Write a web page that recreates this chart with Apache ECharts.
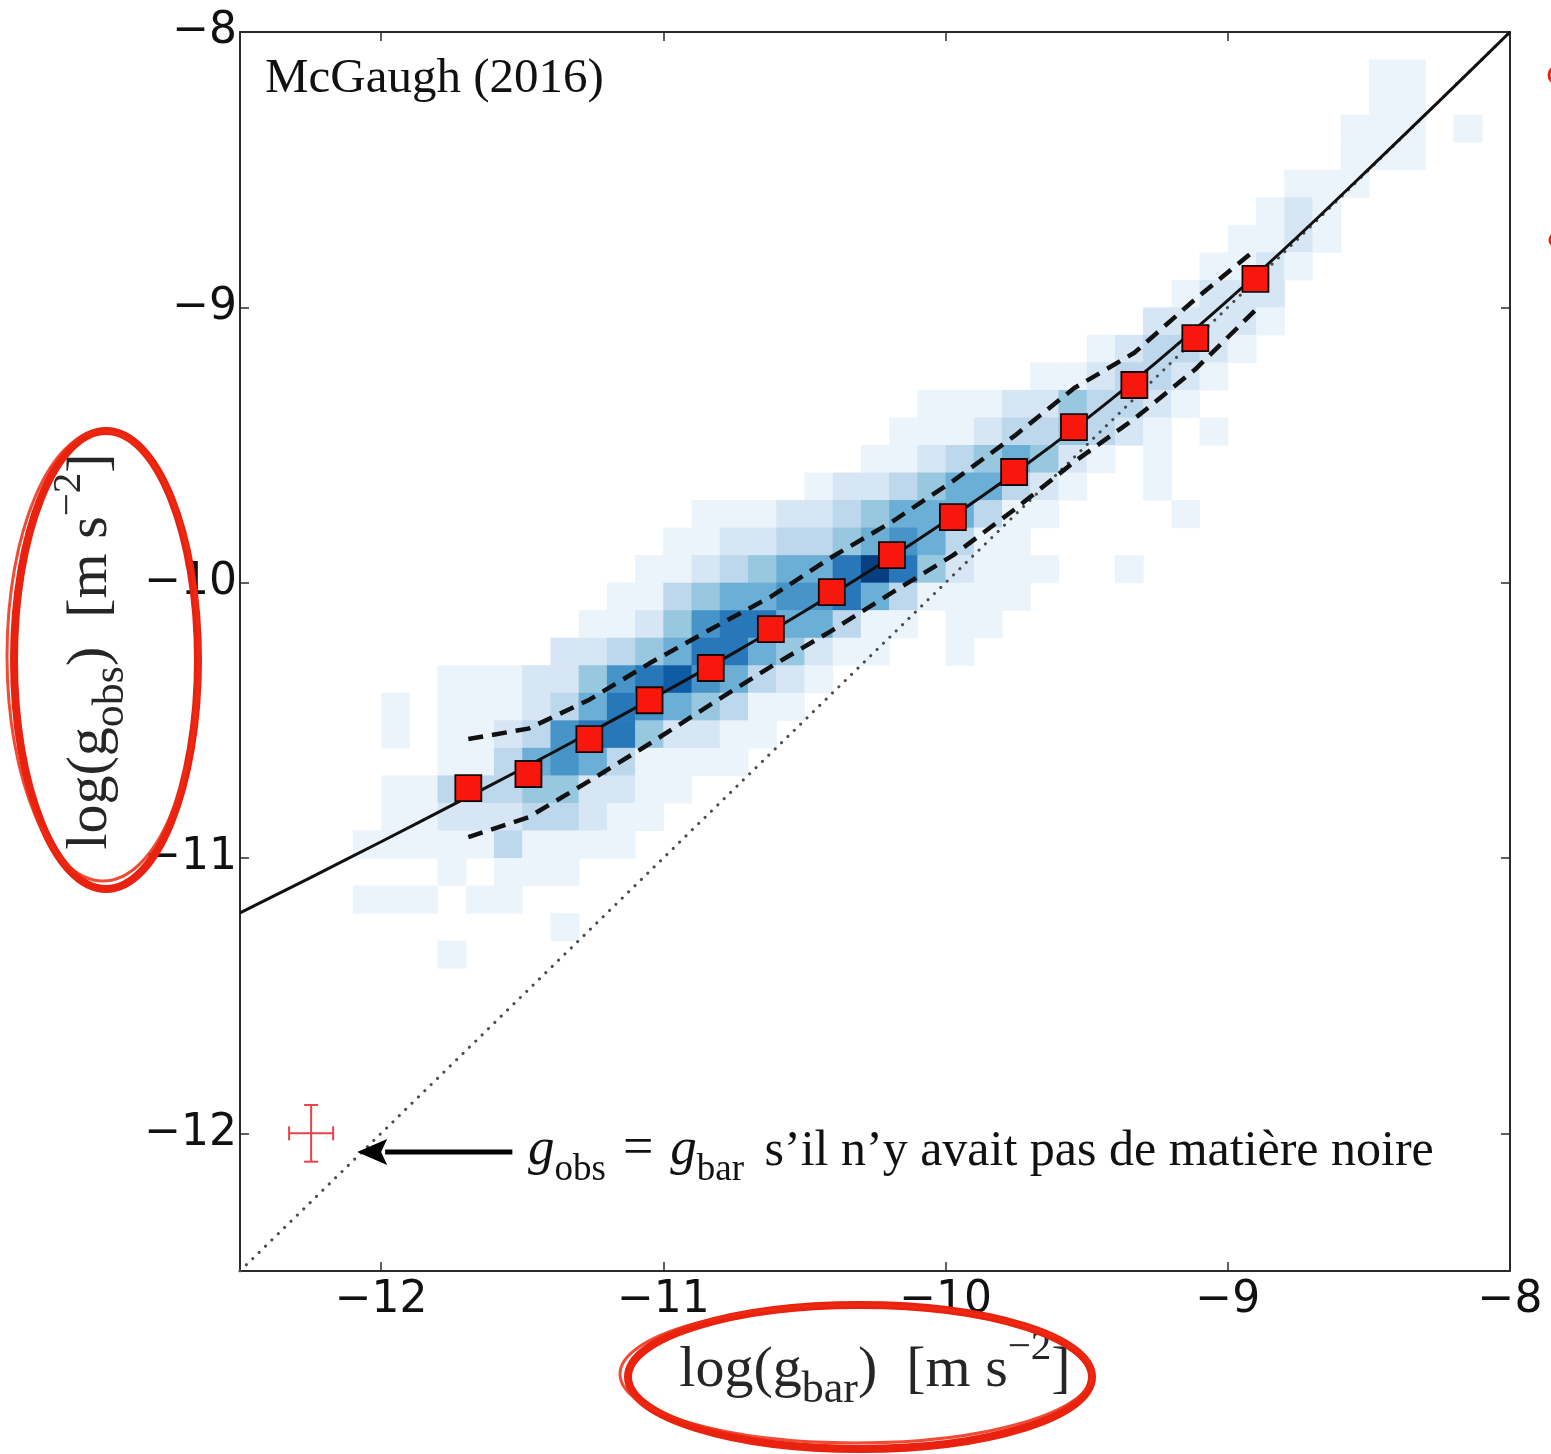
<!DOCTYPE html>
<html>
<head>
<meta charset="utf-8">
<script src="https://cdn.jsdelivr.net/npm/echarts@6.0.0/dist/echarts.min.js"></script>
<style>
html,body{margin:0;padding:0;background:#ffffff;}
#chart{width:1551px;height:1454px;}
</style>
</head>
<body>
<div id="chart"></div>
<script>
// ---------- axes ----------
const axisMin = -12.5;
const axisMax = -8;
const tickValues = [-12, -11, -10, -9, -8];

// ---------- 2-D histogram of the data (0.1 dex bins), rows listed top to bottom ----------
const binSize = 0.1;
const rowY = [-8.2,-8.3,-8.4,-8.5,-8.6,-8.7,-8.8,-8.9,-9.0,-9.1,-9.2,-9.3,-9.4,-9.5,-9.6,-9.7,-9.8,-9.9,-10.0,-10.1,-10.2,-10.3,-10.4,-10.5,-10.6,-10.7,-10.8,-10.9,-11.0,-11.1,-11.2,-11.3,-11.4];
const rowStartX = [-8.5,-8.5,-8.6,-8.6,-8.8,-8.9,-9.0,-9.1,-9.2,-9.3,-9.5,-9.7,-10.1,-10.2,-10.3,-10.5,-10.9,-11.0,-11.1,-11.2,-11.3,-11.4,-11.8,-12.0,-12.0,-11.8,-12.0,-12.0,-12.1,-11.8,-12.1,-11.4,-11.8];
const rowCounts = [
  [1,1],
  [1,1],
  [1,1,1,0,1],
  [1,1,1],
  [1,1,1],
  [1,2,1],
  [1,1,2,1],
  [1,1,2,1],
  [1,2,2,2],
  [2,2,2,2,1],
  [1,2,3,3,2,1],
  [1,1,2,3,3,2,1],
  [1,1,1,2,2,4,3,3,2,1],
  [1,1,1,2,3,3,4,3,2,1,0,1],
  [1,1,2,3,4,5,4,2,1,0,1],
  [1,2,2,3,4,5,5,3,2,1,0,0,1],
  [1,1,1,2,2,3,4,5,5,5,3,1,1,0,0,0,0,1],
  [1,1,2,2,3,3,4,5,6,5,3,1,1],
  [1,1,2,3,4,5,5,7,9,7,4,2,1,1,1,0,0,1],
  [1,1,3,4,5,5,6,6,7,5,3,1,1,1,1],
  [1,1,2,4,6,7,7,5,5,3,1,1,0,1,1],
  [2,2,3,4,5,7,7,5,4,2,1,1,0,0,1],
  [1,1,1,2,2,4,6,7,8,6,5,3,2,1],
  [1,0,1,1,1,2,3,5,7,6,5,4,3,1,1],
  [1,0,1,1,2,3,6,7,7,4,2,2,1,1],
  [1,1,3,5,6,5,3,1,1,1,1],
  [1,1,3,3,3,4,4,2,2,1,1],
  [1,1,2,2,2,3,3,2,1,1],
  [1,1,1,1,1,3,1,1,1,1],
  [1,0,1,1,1],
  [1,1,1,0,1,1],
  [1],
  [1]
];

// ---------- binned means (red squares) ----------
const binX = [-11.691,-11.478,-11.262,-11.049,-10.832,-10.619,-10.403,-10.190,-9.974,-9.757,-9.545,-9.331,-9.115,-8.902];
const binY = [-10.746,-10.695,-10.568,-10.427,-10.310,-10.169,-10.034,-9.900,-9.762,-9.598,-9.435,-9.282,-9.112,-8.897];
// ---------- scatter envelope (dashed), at the same x as the bins ----------
const upperY = [-10.568,-10.530,-10.425,-10.293,-10.169,-10.051,-9.907,-9.779,-9.631,-9.468,-9.294,-9.165,-8.970,-8.790];
const lowerY = [-10.924,-10.852,-10.720,-10.585,-10.442,-10.305,-10.174,-10.036,-9.901,-9.735,-9.562,-9.405,-9.225,-9.010];

// ---------- fitted relation (solid line) ----------
const fitX = [-12.5,-12.25,-12,-11.75,-11.5,-11.25,-11,-10.75,-10.5,-10.25,-10,-9.75,-9.5,-9.25,-9,-8.75,-8.5,-8.25,-8];
const fitY = [-11.199,-11.071,-10.941,-10.809,-10.676,-10.539,-10.399,-10.255,-10.104,-9.945,-9.777,-9.598,-9.405,-9.197,-8.975,-8.741,-8.497,-8.250,-8.000];

// ---------- 1:1 line (dotted) ----------
const unityX = [-12.5, -8];
const unityY = [-12.5, -8];

// ---------- typical error bar ----------
const errCenter = [-12.248, -12.0];
const errHalf = [0.078, 0.103];

// ---------- arrow of the annotation ----------
const arrowFrom = [-11.535, -12.068];
const arrowTo = [-12.085, -12.068];

// ---------- build data ----------
const heatData = [];
rowY.forEach((y0, r) => {
  rowCounts[r].forEach((v, i) => {
    if (v > 0) heatData.push([+(rowStartX[r] + i * binSize).toFixed(2), y0, v]);
  });
});
const zip = (xs, ys) => xs.map((x, i) => [x, ys[i]]);

const minus = v => (v < 0 ? '\u2212' : '') + Math.abs(v);
const frameColor = '#2b2b2b';
const serif = 'Liberation Serif';

function baseAxis(pos, showLabels) {
  return {
    type: 'value', min: axisMin, max: axisMax, position: pos,
    axisLine: { show: true, onZero: false, lineStyle: { color: frameColor, width: 2 } },
    axisTick: { show: true, inside: true, length: 9, customValues: tickValues, lineStyle: { color: frameColor, width: 1.5 } },
    axisLabel: showLabels ? {
      show: true, customValues: tickValues, formatter: minus,
      fontFamily: 'DejaVu Sans', fontSize: 44, color: '#111', margin: pos === 'bottom' ? 8 : 3
    } : { show: false },
    splitLine: { show: false }
  };
}

const nameRich = {
  t: { fontFamily: serif, fontSize: 58, color: '#262626', verticalAlign: 'bottom', lineHeight: 68, padding: [0, 0, 13, 0] },
  s: { fontFamily: serif, fontSize: 44, color: '#262626', verticalAlign: 'bottom', lineHeight: 55, padding: [0, 0, 0, 0] },
  p: { fontFamily: serif, fontSize: 41, color: '#262626', verticalAlign: 'bottom', lineHeight: 50, padding: [0, 0, 44, 0] }
};

const xMain = baseAxis('bottom', true);
xMain.name = '{t|log(g}{s|bar}{t|)  [m s}{p|\u22122}{t|]}';
xMain.nameLocation = 'middle';
xMain.nameGap = 50;
xMain.nameTextStyle = { rich: nameRich };

const yMain = baseAxis('left', true);
yMain.name = '{t|log(g}{s|obs}{t|)  [m s}{p|\u22122}{t|]}';
yMain.nameLocation = 'middle';
yMain.nameGap = 77;
yMain.nameTextStyle = { rich: nameRich };

const option = {
  backgroundColor: '#ffffff',
  animation: false,
  grid: { left: 240, right: 41, top: 32, bottom: 183, containLabel: false },
  xAxis: [xMain, baseAxis('top', false)],
  yAxis: [yMain, baseAxis('right', false)],
  visualMap: {
    show: false, seriesIndex: 0, dimension: 2, min: 0.5, max: 9.5,
    inRange: { color: ['#f7fbff','#deebf7','#c6dbef','#9ecae1','#6baed6','#4292c6','#2171b5','#08519c','#08306b'] }
  },
  series: [
    {
      type: 'custom', name: 'density', data: heatData, z: 1, silent: true,
      encode: { x: 0, y: 1 },
      renderItem: (params, api) => {
        const x0 = api.value(0), y0 = api.value(1);
        const a = api.coord([x0, y0 + binSize]);
        const b = api.coord([x0 + binSize, y0]);
        return { type: 'rect', shape: { x: a[0], y: a[1], width: b[0] - a[0] + 0.6, height: b[1] - a[1] + 0.6 },
                 style: { fill: api.visual('color') } };
      }
    },
    {
      type: 'line', name: 'unity', data: zip(unityX, unityY), showSymbol: false, z: 3, silent: true,
      lineStyle: { color: '#4a4a4a', width: 3, type: [0.1, 8.8], cap: 'round' }
    },
    {
      type: 'line', name: 'upper', data: zip(binX, upperY), showSymbol: false, z: 4, silent: true,
      lineStyle: { color: '#111', width: 4.5, type: [15, 9] }
    },
    {
      type: 'line', name: 'lower', data: zip(binX, lowerY), showSymbol: false, z: 4, silent: true,
      lineStyle: { color: '#111', width: 4.5, type: [15, 9] }
    },
    {
      type: 'line', name: 'fit', data: zip(fitX, fitY), showSymbol: false, z: 5, silent: true,
      smooth: 0.3, lineStyle: { color: '#111', width: 3 }
    },
    {
      type: 'scatter', name: 'bins', data: zip(binX, binY), z: 6, silent: true,
      symbol: 'rect', symbolSize: 26,
      itemStyle: { color: '#f8170c', borderColor: '#1a0505', borderWidth: 1.8, opacity: 1 }
    },
    {
      type: 'custom', name: 'error', data: [[errCenter[0], errCenter[1], errHalf[0], errHalf[1]]], z: 6, silent: true,
      encode: { x: 0, y: 1 },
      renderItem: (params, api) => {
        const cx = api.value(0), cy = api.value(1), dx = api.value(2), dy = api.value(3);
        const L = api.coord([cx - dx, cy]), R = api.coord([cx + dx, cy]);
        const T = api.coord([cx, cy + dy]), B = api.coord([cx, cy - dy]);
        const st = { stroke: '#e8424a', lineWidth: 2 };
        const cap = 7;
        return { type: 'group', children: [
          { type: 'line', shape: { x1: L[0], y1: L[1], x2: R[0], y2: R[1] }, style: st },
          { type: 'line', shape: { x1: T[0], y1: T[1], x2: B[0], y2: B[1] }, style: st },
          { type: 'line', shape: { x1: L[0], y1: L[1] - cap, x2: L[0], y2: L[1] + cap }, style: st },
          { type: 'line', shape: { x1: R[0], y1: R[1] - cap, x2: R[0], y2: R[1] + cap }, style: st },
          { type: 'line', shape: { x1: T[0] - cap, y1: T[1], x2: T[0] + cap, y2: T[1] }, style: st },
          { type: 'line', shape: { x1: B[0] - cap, y1: B[1], x2: B[0] + cap, y2: B[1] }, style: st }
        ] };
      }
    },
    {
      type: 'custom', name: 'arrow', data: [[arrowFrom[0], arrowFrom[1], arrowTo[0], arrowTo[1]]], z: 7, silent: true,
      encode: { x: [0, 2], y: [1, 3] },
      renderItem: (params, api) => {
        const p0 = api.coord([api.value(0), api.value(1)]);
        const p1 = api.coord([api.value(2), api.value(3)]);
        const head = 30, half = 13;
        return { type: 'group', children: [
          { type: 'line', shape: { x1: p0[0], y1: p0[1], x2: p1[0] + head - 2, y2: p1[1] }, style: { stroke: '#000', lineWidth: 5 } },
          { type: 'polygon', shape: { points: [[p1[0], p1[1]], [p1[0] + head, p1[1] - half], [p1[0] + head - 6, p1[1]], [p1[0] + head, p1[1] + half]] },
            style: { fill: '#000' } }
        ] };
      }
    }
  ],
  graphic: [
    { type: 'text', left: 265, top: 55, z: 20,
      style: { text: 'McGaugh (2016)', fontFamily: serif, fontSize: 49, fill: '#111' } },
    { type: 'text', x: 528, y: 1133, z: 20,
      style: {
        text: '{g|g}{s|obs}{e|=}{g|g}{s|bar}{n| s\u2019il n\u2019y avait pas de mati\u00e8re noire}',
        rich: {
          g: { fontFamily: serif, fontStyle: 'italic', fontSize: 53, fill: '#111', verticalAlign: 'bottom', lineHeight: 56, padding: [0, 0, 12, 0] },
          s: { fontFamily: serif, fontSize: 37, fill: '#111', verticalAlign: 'bottom', lineHeight: 44, padding: [0, 0, 0, 0] },
          e: { fontFamily: serif, fontSize: 54, fill: '#111', verticalAlign: 'bottom', lineHeight: 56, padding: [0, 17, 12, 17] },
          n: { fontFamily: serif, fontSize: 50, fill: '#111', verticalAlign: 'bottom', lineHeight: 56, padding: [0, 0, 12, 8] }
        }
      } },
    { type: 'ellipse', z: 30, shape: { cx: 106, cy: 660, rx: 92, ry: 229 },
      style: { fill: 'none', stroke: '#e8220f', lineWidth: 8 } },
    { type: 'ellipse', z: 30, shape: { cx: 103, cy: 656, rx: 96, ry: 225 },
      style: { fill: 'none', stroke: '#ee2a12', lineWidth: 3, opacity: 0.85 } },
    { type: 'ellipse', z: 30, shape: { cx: 860, cy: 1377, rx: 232, ry: 72 },
      style: { fill: 'none', stroke: '#e8220f', lineWidth: 8 } },
    { type: 'ellipse', z: 30, shape: { cx: 856, cy: 1374, rx: 236, ry: 69 },
      style: { fill: 'none', stroke: '#ee2a12', lineWidth: 3, opacity: 0.85 } },
    { type: 'circle', z: 30, shape: { cx: 1557, cy: 75, r: 8 }, style: { fill: 'none', stroke: '#e8220f', lineWidth: 3 } },
    { type: 'circle', z: 30, shape: { cx: 1556, cy: 240, r: 6 }, style: { fill: 'none', stroke: '#e8220f', lineWidth: 3 } }
  ]
};

const chart = echarts.init(document.getElementById('chart'), null, { renderer: 'canvas' });
chart.setOption(option);
</script>
</body>
</html>
